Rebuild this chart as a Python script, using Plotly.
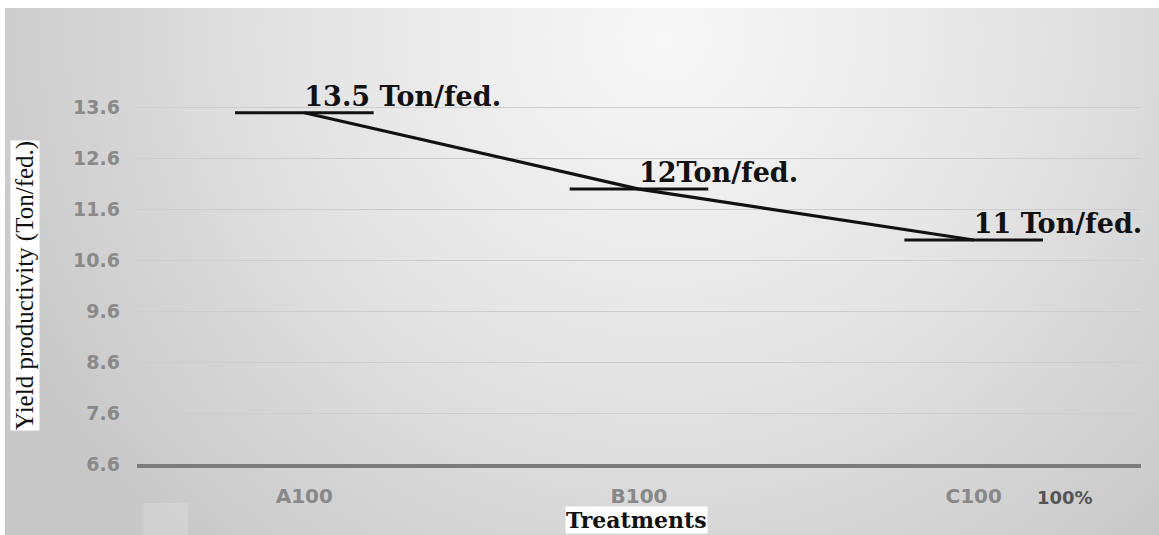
import base64
import plotly.graph_objects as go

# Yield by treatment
treatments = ["A100", "B100", "C100"]
yield_ton_fed = [13.5, 12.0, 11.0]
value_labels = ["13.5 Ton/fed.", "12Ton/fed.", "11 Ton/fed."]

# y axis ticks
y_tick0 = 6.6
y_dtick = 1.0
y_top = 14.34

W, H = 1159, 535
M_L, M_R, M_T, M_B = 137, 18, 70, 71
PW = W - M_L - M_R
PH = H - M_T - M_B


def paper_x(px):
    return (px - M_L) / PW


def paper_y(py):
    return (H - M_B - py) / PH


# soft grey radial backdrop
svg = f"""<svg xmlns='http://www.w3.org/2000/svg' width='1154' height='527' viewBox='0 0 1154 527'>
<defs><radialGradient id='g' gradientUnits='userSpaceOnUse' cx='660' cy='30' r='720'
 gradientTransform='translate(660 30) scale(1 0.95) translate(-660 -30)'>
<stop offset='0' stop-color='#f8f8f8'/><stop offset='0.5' stop-color='#e4e4e4'/>
<stop offset='1' stop-color='#c8c8c8'/></radialGradient></defs>
<rect width='1154' height='527' fill='url(#g)'/></svg>"""
bg_src = "data:image/svg+xml;base64," + base64.b64encode(svg.encode()).decode()

fig = go.Figure()

# horizontal mean markers (line-ew spans about 1.4 x size)
fig.add_trace(go.Scatter(
    x=treatments, y=yield_ton_fed, mode="markers",
    marker=dict(symbol="line-ew", size=99, line=dict(width=3, color="#111111")),
    hoverinfo="skip", showlegend=False,
))

# trend line with value labels
fig.add_trace(go.Scatter(
    x=treatments, y=yield_ton_fed, mode="lines+text",
    line=dict(color="#111111", width=3.2),
    text=value_labels, textposition="top right",
    textfont=dict(family="DejaVu Serif", size=27, color="#111111", weight="bold"),
    showlegend=False,
))

y_tick_font = dict(family="DejaVu Sans", size=19, color="#8a8a8a", weight="bold")
x_tick_font = dict(family="DejaVu Sans", size=20, color="#888888", weight="bold")

fig.update_layout(
    width=W, height=H,
    margin=dict(l=M_L, r=M_R, t=M_T, b=M_B),
    paper_bgcolor="white",
    plot_bgcolor="rgba(0,0,0,0)",
    xaxis=dict(
        type="category", range=[-0.5, 2.5],
        showgrid=False, zeroline=False,
        showline=True, linecolor="#7c7c7c", linewidth=4,
        ticks="", tickfont=x_tick_font, ticklabelstandoff=11,
    ),
    yaxis=dict(
        range=[y_tick0, y_top], tick0=y_tick0, dtick=y_dtick,
        tickformat=".1f",
        showgrid=True, gridcolor="#cdcdcd", gridwidth=1.3,
        zeroline=False, showline=False,
        ticks="", tickfont=y_tick_font, ticklabelstandoff=16,
    ),
    images=[dict(
        source=bg_src, xref="paper", yref="paper",
        x=paper_x(5), y=paper_y(8), sizex=(W - 5) / PW, sizey=(H - 8) / PH,
        xanchor="left", yanchor="top", sizing="stretch", layer="below",
    )],
    shapes=[dict(
        type="rect", xref="paper", yref="paper",
        x0=paper_x(143), x1=paper_x(188), y0=paper_y(535), y1=paper_y(503),
        fillcolor="rgba(255,255,255,0.15)", line=dict(width=0), layer="below",
    )],
    annotations=[
        dict(text="Yield productivity (Ton/fed.)", textangle=-90,
             xref="paper", yref="paper", x=paper_x(25), y=paper_y(286),
             xanchor="center", yanchor="middle",
             showarrow=False, bgcolor="white", borderpad=0,
             font=dict(family="Liberation Serif", size=25, color="#111111")),
        dict(text="Treatments", xref="paper", yref="paper",
             x=paper_x(636), y=paper_y(506), xanchor="center", yanchor="top",
             showarrow=False, bgcolor="white", borderpad=0,
             font=dict(family="DejaVu Serif", size=22, color="#111111", weight="bold")),
        dict(text="100%", xref="paper", yref="paper",
             x=paper_x(1065), y=paper_y(497), xanchor="center", yanchor="middle",
             showarrow=False,
             font=dict(family="DejaVu Sans", size=18, color="#555555", weight="bold")),
    ],
)

fig.write_html("out.html")
